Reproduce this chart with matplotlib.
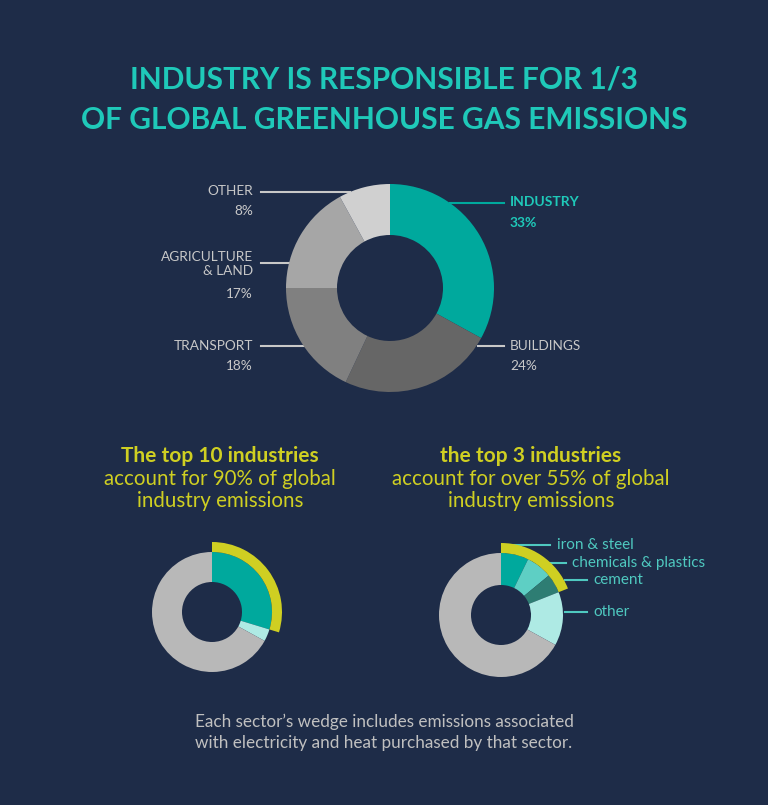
import matplotlib.pyplot as plt

plt.rcParams['font.family'] = ['Lato', 'DejaVu Sans']

# main donut
sectors = ['INDUSTRY', 'BUILDINGS', 'TRANSPORT', 'AGRICULTURE\n& LAND', 'OTHER']
shares = [33, 24, 18, 17, 8]
sector_colors = ['#00a99d', '#666666', '#808080', '#a6a6a6', '#d0d0d0']

# top 10 industries donut
top10_parts = [29.7, 3.3, 67.0]
top10_colors = ['#00a99d', '#aeeae4', '#b8b8b8']

# top 3 industries donut
top3_names = ['iron & steel', 'chemicals & plastics', 'cement', 'other']
top3_parts = [7.2, 6.8, 5.0, 14.0]
top3_colors = ['#00a99d', '#5ecfc4', '#2e7d73', '#aeeae4']
rest_share = 100 - sum(top3_parts)

bg = '#1e2c48'
teal_txt = '#1fc9b9'
yellow = '#cfcf22'
H = 805


def Y(py):
    return H - py


fig = plt.figure(figsize=(7.68, 8.05), dpi=100, facecolor=bg)
ax = fig.add_axes([0, 0, 1, 1])
ax.set_facecolor(bg)

# title
ax.text(384, Y(80), 'INDUSTRY IS RESPONSIBLE FOR 1/3', ha='center', va='center',
        fontsize=21.5, fontweight='bold', color=teal_txt)
ax.text(384, Y(120), 'OF GLOBAL GREENHOUSE GAS EMISSIONS', ha='center', va='center',
        fontsize=21.5, fontweight='bold', color=teal_txt)

# main donut
ax.pie(shares, colors=sector_colors, center=(390, Y(288)), radius=104, startangle=90,
       counterclock=False, wedgeprops=dict(width=51, linewidth=0), frame=True)

lab_gray = '#c8c8c8'
left_labels = [('OTHER', '8%', 191, 211, 192, 350),
               ('AGRICULTURE\n& LAND', '17%', 264, 294, 263, 300),
               ('TRANSPORT', '18%', 346, 366, 346, 305)]
for name, pct, ty, py, ly, lx in left_labels:
    ax.plot([261, lx], [Y(ly), Y(ly)], color=lab_gray, lw=1.5, zorder=0)
    ax.text(253, Y(ty), name, ha='right', va='center', fontsize=9.8, color=lab_gray,
            linespacing=1.15)
    ax.text(253, Y(py), pct, ha='right', va='center', fontsize=9.8, color=lab_gray)

ax.plot([450, 504], [Y(203), Y(203)], color='#00a99d', lw=1.5, zorder=0)
ax.text(510, Y(202), sectors[0], ha='left', va='center', fontsize=10, fontweight='bold',
        color=teal_txt)
ax.text(510, Y(223), f'{shares[0]}%', ha='left', va='center', fontsize=10,
        fontweight='bold', color=teal_txt)
ax.plot([478, 504], [Y(346), Y(346)], color=lab_gray, lw=1.5, zorder=0)
ax.text(510, Y(346), sectors[1], ha='left', va='center', fontsize=9.8, color=lab_gray)
ax.text(510, Y(366), f'{shares[1]}%', ha='left', va='center', fontsize=9.8, color=lab_gray)

# subheadings
for cx, head, l2 in [(220, 'The top 10 industries', 'account for 90% of global'),
                     (531, 'the top 3 industries', 'account for over 55% of global')]:
    ax.text(cx, Y(456), head, ha='center', va='center', fontsize=15,
            fontweight='bold', color=yellow)
    ax.text(cx, Y(479), l2, ha='center', va='center', fontsize=14.8, color=yellow)
    ax.text(cx, Y(501), 'industry emissions', ha='center', va='center', fontsize=14.8,
            color=yellow)

# top 10 donut
c1 = (212, Y(612))
ax.pie(top10_parts, colors=top10_colors, center=c1, radius=60, startangle=90,
       counterclock=False, wedgeprops=dict(width=30, linewidth=0), frame=True)
ax.pie([top10_parts[0], 100 - top10_parts[0]], colors=[yellow, 'none'], center=c1,
       radius=70, startangle=90, counterclock=False,
       wedgeprops=dict(width=10, linewidth=0), frame=True)

# top 3 donut
c2 = (501, Y(615))
ax.pie(top3_parts + [rest_share], colors=top3_colors + ['#b8b8b8'], center=c2,
       radius=62, startangle=90, counterclock=False,
       wedgeprops=dict(width=32, linewidth=0), frame=True)
top3_sum = sum(top3_parts[:3])
ax.pie([top3_sum, 100 - top3_sum], colors=[yellow, 'none'], center=c2,
       radius=72, startangle=90, counterclock=False,
       wedgeprops=dict(width=10, linewidth=0), frame=True)

small_lab = '#4fc9c0'
small = [(545, 502, 550, 557), (563, 550, 566, 572), (580, 565, 587, 593), (612, 565, 587, 593)]
for name, (ly, x0, x1, tx) in zip(top3_names, small):
    ax.plot([x0, x1], [Y(ly), Y(ly)], color=small_lab, lw=1.5, zorder=0)
    ax.text(tx, Y(ly), name, ha='left', va='center', fontsize=11, color=small_lab)

# footer
ax.text(384, Y(722), 'Each sector\u2019s wedge includes emissions associated', ha='center',
        va='center', fontsize=12.3, color='#c0c0c0')
ax.text(384, Y(743), 'with electricity and heat purchased by that sector.', ha='center',
        va='center', fontsize=12.3, color='#c0c0c0')

ax.set_xlim(0, 768)
ax.set_ylim(0, H)
ax.set_aspect('auto')
ax.axis('off')

plt.savefig('out.png', dpi=100, facecolor=bg)
